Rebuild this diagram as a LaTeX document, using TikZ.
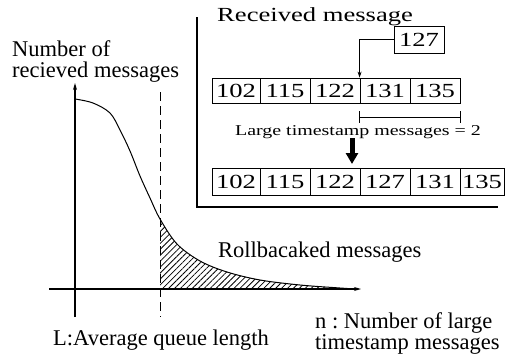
\documentclass[tikz,border=0pt]{standalone}
\usepackage{fontspec}
\usepackage{graphicx}
\setmainfont{Liberation Serif}
\frenchspacing
\newcommand{\wide}[1]{\scalebox{1.33}[1]{#1}}
\usetikzlibrary{arrows.meta,patterns.meta}
\begin{document}
\begin{tikzpicture}[x=1pt,y=-1pt,
  lab/.style={inner sep=0pt, font=\fontsize{22.5}{21.5}\selectfont, align=left},
  cell/.style={draw, line width=0.8pt, minimum width=50pt, minimum height=25pt, inner sep=0pt,
    font=\fontsize{20}{20}\selectfont},
  cellb/.style={cell, minimum height=27pt},
  axis/.style={line width=1.1pt, -{Stealth[length=7pt,width=4pt]}},
  thin arrow/.style={line width=0.8pt, -{Stealth[length=6pt,width=4pt]}},
]
\useasboundingbox (0,0) rectangle (516,362);

% ---------- graph ----------
\def\curvepts{(75,99) (93,103) (110,113) (120,130) (130,151) (140,176) (150,198) (160,219) (177,244) (200,261) (227,272) (260,280) (300,285) (340,288) (356,289)}
\begin{scope}
  \clip (160,0) rectangle (400,289);
  \fill[pattern={Lines[angle=45,distance=4.2pt,line width=0.8pt]}]
    (75,289) -- plot[smooth,tension=0.55] coordinates {\curvepts} -- cycle;
\end{scope}
\draw[line width=1pt] plot[smooth,tension=0.55] coordinates {\curvepts};

\coordinate (ya0) at (75,317);
\coordinate (ya1) at (75,83);
\coordinate (xa0) at (49,289);
\coordinate (xa1) at (361,289);
\draw[axis] (ya0) -- (ya1);
\draw[axis] (xa0) -- (xa1);
\coordinate (d0) at (160,92);
\coordinate (d1) at (160,317);
\draw[line width=0.9pt, dash pattern=on 9pt off 5pt] (d0) -- (d1);

\node[lab, anchor=north west] (ylab) at (12,40) {Number of\\recieved messages};
\node[lab, anchor=base west] (roll) at (218,257) {Rollbacaked messages};
\node[lab, anchor=base west] (llab) at (53,345) {L:Average queue length};
\node[lab, anchor=north west] (nlab) at (315,312) {n : Number of large\\timestamp messages};

% ---------- inset ----------
\coordinate (f1) at (197,17);
\coordinate (f2) at (197,207);
\coordinate (f3) at (498,207);
\draw[line width=2pt] (f1) -- (f2) -- (f3);

\node[inner sep=0pt, anchor=base west, font=\fontsize{20}{20}\selectfont] (title) at (217,21) {\wide{Received message}};

\node[cellb] (b127) at (419,39.5) {\wide{127}};

\node[cell, minimum width=48pt] (r1c1) at (236,90.5) {\wide{102}};
\node[cell] (r1c2) at (285,90.5) {\wide{115}};
\node[cell] (r1c3) at (335,90.5) {\wide{122}};
\node[cell] (r1c4) at (385,90.5) {\wide{131}};
\node[cell] (r1c5) at (435,90.5) {\wide{135}};

\draw[thin arrow] (b127.west) -| (r1c4.north west);

\coordinate (bl) at ([yshift=-14pt]r1c4.south west);
\coordinate (br) at ([yshift=-14pt]r1c5.south east);
\draw[line width=0.8pt] (bl) -- (br);
\draw[line width=0.8pt] ([yshift=6pt]bl) -- ([yshift=-6pt]bl);
\draw[line width=0.8pt] ([yshift=6pt]br) -- ([yshift=-6pt]br);

\node[inner sep=0pt, anchor=base, font=\fontsize{15}{15}\selectfont] (lts) at (358,135) {\wide{Large timestamp messages = 2}};

\coordinate (ta) at (352,138);
\coordinate (tb) at (352,164);
\draw[line width=5pt, -{Triangle[length=11pt,width=12pt]}] (ta) -- (tb);

\node[cellb, minimum width=48pt] (r2c1) at (236,181.5) {\wide{102}};
\node[cellb] (r2c2) at (285,181.5) {\wide{115}};
\node[cellb] (r2c3) at (335,181.5) {\wide{122}};
\node[cellb] (r2c4) at (385,181.5) {\wide{127}};
\node[cellb] (r2c5) at (435,181.5) {\wide{131}};
\node[cellb, minimum width=44pt] (r2c6) at (482,181.5) {\wide{135}};
\end{tikzpicture}
\end{document}
